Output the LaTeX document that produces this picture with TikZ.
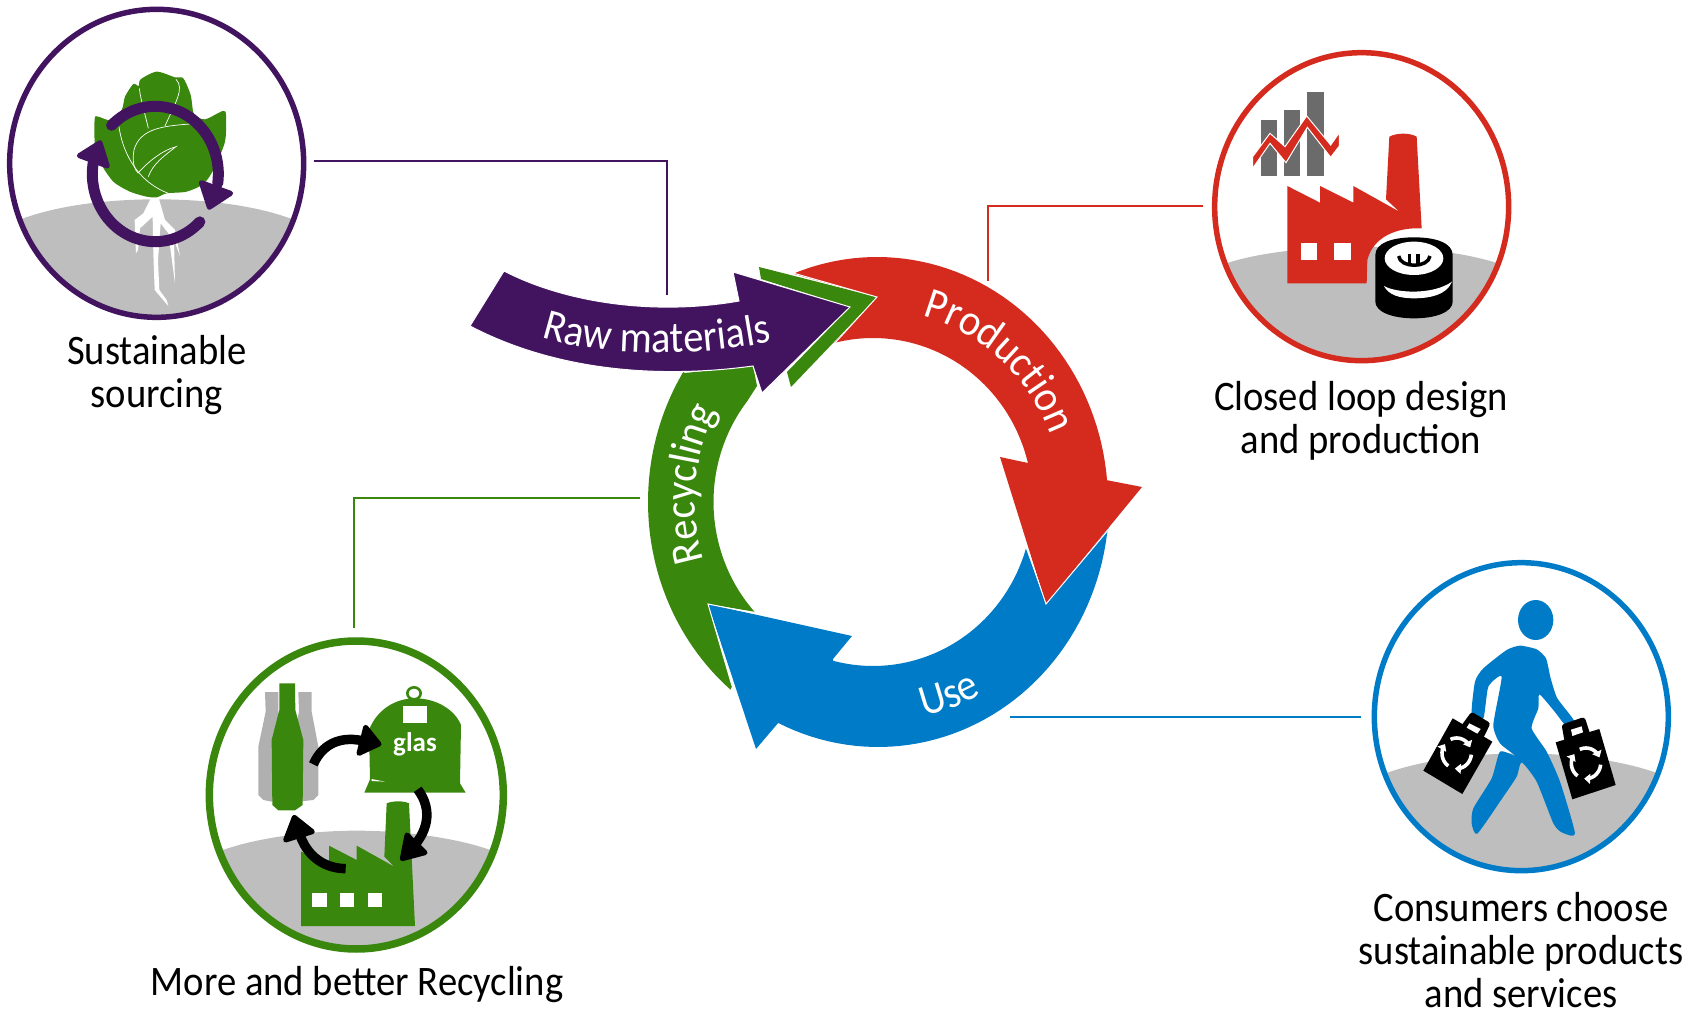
\documentclass[tikz,border=0pt]{standalone}
\usepackage{fontspec}
\setmainfont{Carlito}
\newfontfamily\narrowfam[FakeStretch=0.92]{Carlito}
\usetikzlibrary{decorations.text,arrows.meta}
\definecolor{cpurple}{HTML}{42145F}
\definecolor{cred}{HTML}{D52B1E}
\definecolor{cblue}{HTML}{007BC7}
\definecolor{cgreen}{HTML}{39870C}
\definecolor{cground}{HTML}{BEBEBE}
\definecolor{cbar}{HTML}{6B6B6B}
\definecolor{cbottle}{HTML}{B0B0B0}
\newcommand\ringfont{\narrowfam\fontsize{44}{44}\selectfont\color{white}}
\newcommand\recyc[2]{%
  \foreach \a in {5,125,245}{%
    \pgfmathsetmacro\b{\a+92}%
    \draw[white,line width=3.6pt,-{Triangle[length=6pt,width=10pt]}] plot[domain=\a:\b,samples=12] ({#1+44*cos(\x)},{#2+46*sin(\x)});%
  }}
\tikzset{
  link/.style={line width=2.8pt},
  caption/.style={font=\narrowfam\fontsize{42}{43}\selectfont,align=center,text=black,inner sep=0pt},
  ringedge/.style={draw=white,line width=1pt,line join=miter},
  zoomed/.style={x=0.33333pt,y=-0.33333pt},
  ringtext/.style={decorate,decoration={text along path,text align=center,text={#1}}},
  cycl/.style={cpurple,line width=11pt,line cap=round},
  blackarc/.style={black,line width=9.5pt},
  vein/.style={white,line width=0.7pt},
  thinwhite/.style={draw=white,line width=0.5pt}
}
\begin{document}
\begin{tikzpicture}[x=1pt,y=-1pt]
\useasboundingbox (0,0) rectangle (1690,1016);

% ---------- connectors
\coordinate (p1) at (314,161); \coordinate (p2) at (667,161); \coordinate (p3) at (667,295);
\coordinate (r1) at (1203,206); \coordinate (r2) at (988,206); \coordinate (r3) at (988,281);
\coordinate (g1) at (640,498); \coordinate (g2) at (354,498); \coordinate (g3) at (354,628);
\coordinate (b1) at (1010,717); \coordinate (b2) at (1361,717);
\draw[link,cpurple] (p1) -- (p2) -- (p3);
\draw[link,cred] (r1) -- (r2) -- (r3);
\draw[link,cgreen] (g1) -- (g2) -- (g3);
\draw[link,cblue] (b1) -- (b2);

% ---------- ring
\fill[cgreen] (732,686) -- plot[domain=130:212,samples=50] ({879+231*cos(\x)},{502+245*sin(\x)}) -- (685,373) -- (753,366) -- (757,386) -- plot[domain=218:138,samples=50] ({873+159.5*cos(\x)},{502+164*sin(\x)}) -- (708,604) -- cycle;
\fill[cblue] (1109,528) -- plot[domain=7.2:115.6,samples=50] ({878+231*cos(\x)},{502+245*sin(\x)}) -- (756,749) -- (708,604) -- (852,636) -- (833,659) -- plot[domain=104.5:16.5,samples=50] ({873+159.5*cos(\x)},{502+164*sin(\x)}) -- (1046,604) -- cycle;
\path[ringedge] (732,686) -- (708,604) -- (753,613);
\fill[cred] plot[domain=-111.3:-5.1,samples=50] ({877+231*cos(\x)},{502+245*sin(\x)}) -- (1142,487) -- (1046,604) -- (1000,457) -- (1028,463) -- plot[domain=-14.5:-104,samples=50] ({873+159.5*cos(\x)},{502+164*sin(\x)}) -- (877,297) -- cycle;
\path[ringedge] (1109,529) -- (1046,604) -- (1027,548);
% green chevron
\fill[cgreen] (759,267) -- (877,297) -- (791,387) -- (787,372) -- (850,307) -- (761,279) -- cycle;
\path[ringedge] (793,273) -- (877,297) -- (835,343);
% purple arrow
\path[fill=cpurple,ringedge] (504,271) .. controls (570,305) and (660,315) .. (739,301) -- (733,272) -- (850,307) -- (762,393) -- (753,366) .. controls (650,380) and (550,368) .. (470,326) -- cycle;
\path[ringtext={|\ringfont|Raw materials}] (535,335) .. controls (600,358) and (700,358) .. (778,340);
\path[ringtext={|\ringfont|Production}] plot[domain=-84:-12,samples=40] ({875+187*cos(\x)},{502+192*sin(\x)});
\path[ringtext={|\ringfont|Recycling}] plot[domain=146:225,samples=40] ({873+178*cos(\x)},{502+190*sin(\x)});
\path[ringtext={|\ringfont|Use}] plot[domain=89:49,samples=30] ({875+220*cos(\x)},{502+220*sin(\x)});

% ---------- badge 1: sourcing
\begin{scope}[shift={(0,0)},zoomed]
  \begin{scope}
    \clip (470,490) ellipse [x radius=441,y radius=462];
    \fill[cground] (0,680) -- (70,655) .. controls (190,612) and (340,598) .. (470,598) .. controls (600,598) and (750,612) .. (870,655) -- (960,680) -- (960,1000) -- (0,1000) -- cycle;
  \end{scope}
  \draw[cpurple,line width=5.5pt] (470,490) ellipse [x radius=441,y radius=462];
  \fill[white] (455,590) -- (430,640) -- (404,660) -- (408,760) -- (414,750) -- (420,685) -- (458,650) -- (460,760) -- (464,870) -- (505,918) -- (500,900) -- (478,870) -- (474,780) -- (482,670) -- (505,700) -- (525,850) -- (522,720) -- (540,768) -- (525,690) -- (495,660) -- (475,590) -- cycle;
  \fill[cgreen] plot[smooth cycle,tension=.45] coordinates {(470,215) (525,232) (550,235) (572,285) (582,342) (615,358) (668,333) (678,345) (675,425) (640,510) (610,552) (560,575) (500,580) (470,592) (440,590) (390,575) (340,545) (302,490) (285,440) (284,356) (295,350) (330,360) (365,330) (375,290) (400,252) (416,258) (422,238)};
  \draw[vein] (418,265) .. controls (422,300) and (435,340) .. (445,385);
  \draw[vein] (528,238) .. controls (555,265) and (525,310) .. (495,378);
  \draw[vein] (357,380) .. controls (365,440) and (400,540) .. (505,580);
  \draw[vein] (570,372) .. controls (490,378) and (420,385) .. (402,450) .. controls (395,490) and (405,510) .. (415,520);
  \draw[vein] (415,518) .. controls (450,480) and (490,450) .. (528,440) .. controls (490,470) and (460,490) .. (445,530);
  \draw[cycl] plot[domain=-134:8,samples=40] ({466+189*cos(\x)},{522+203*sin(\x)});
  \draw[cycl] plot[domain=45:192,samples=40] ({466+189*cos(\x)},{522+203*sin(\x)});
  \filldraw[cpurple,line width=5pt,line join=round] (604,548) -- (628,622) -- (692,580) -- cycle;
  \filldraw[cpurple,line width=5pt,line join=round] (238,467) -- (300,428) -- (322,498) -- cycle;
\end{scope}

% ---------- badge 2: production
\begin{scope}[shift={(1200,40)},zoomed]
  \begin{scope}
    \clip (485,500) ellipse [x radius=441,y radius=462];
    \fill[cground] (0,690) -- (85,668) .. controls (200,632) and (360,620) .. (490,620) .. controls (620,620) and (770,632) .. (888,668) -- (960,690) -- (960,1000) -- (0,1000) -- cycle;
  \end{scope}
  \draw[cred,line width=5.5pt] (485,500) ellipse [x radius=441,y radius=462];
  \path[fill=cbar,thinwhite] (182,237) rectangle (233,410);
  \path[fill=cbar,thinwhite] (251,208) rectangle (302,410);
  \path[fill=cbar,thinwhite] (320,155) rectangle (372,410);
  \path[fill=cred,draw=white,line width=1pt] (158,350) -- (210,280) -- (255,320) -- (320,228) -- (392,315) -- (418,278) -- (418,318) -- (392,352) -- (322,262) -- (258,368) -- (210,310) -- (158,385) -- cycle;
  \fill[cred] (262,438) -- (360,488) -- (360,438) -- (460,488) -- (460,438) -- (598,515) -- (558,478) -- (568,290) .. controls (590,278) and (630,278) .. (650,290) -- (665,565) .. controls (590,562) and (520,590) .. (502,660) -- (500,730) -- (262,730) -- cycle;
  \fill[white] (303,610) rectangle (352,660);
  \fill[white] (403,610) rectangle (452,660);
  % coins
  \fill[black] (526,645) .. controls (526,610) and (575,592) .. (642,592) .. controls (710,592) and (758,610) .. (758,645) -- (758,785) .. controls (758,815) and (710,835) .. (642,835) .. controls (575,835) and (526,815) .. (526,785) -- cycle;
  \fill[white] (642,655) ellipse [x radius=88,y radius=50];
  \fill[white] (552,738) .. controls (590,760) and (700,765) .. (756,725) .. controls (740,765) and (690,775) .. (640,775) .. controls (600,775) and (565,765) .. (552,738) -- cycle;
  \draw[black,line width=3.5pt] (596,648) .. controls (600,685) and (685,685) .. (690,648);
  \draw[black,line width=3.5pt] (628,642) -- (628,678);
  \draw[black,line width=3.5pt] (654,642) -- (654,678);
\end{scope}

% ---------- badge 3: consumers
\begin{scope}[shift={(1360,555)},zoomed]
  \begin{scope}
    \clip (484,485) ellipse [x radius=441,y radius=462];
    \fill[cground] (0,680) -- (85,652) .. controls (200,612) and (360,595) .. (485,595) .. controls (610,595) and (770,612) .. (885,652) -- (960,680) -- (960,1000) -- (0,1000) -- cycle;
  \end{scope}
  \draw[cblue,line width=5.5pt] (484,485) ellipse [x radius=441,y radius=462];
  \fill[cblue] (527,195) ellipse [x radius=53,y radius=60];
  \fill[cblue] plot[smooth cycle,tension=.35] coordinates {(440,285) (480,272) (530,283) (558,310) (572,370) (592,430) (642,497) (618,512) (580,465) (538,418) (535,460) (515,520) (560,590) (600,680) (645,836) (605,832) (580,805) (530,680) (485,622) (470,665) (430,725) (352,836) (335,805) (340,760) (395,670) (420,590) (465,602) (420,565) (400,510) (425,365) (385,395) (370,490) (335,480) (345,380) (370,340)};
  \fill[black] (278,490) -- (397,560) -- (307,717) -- (190,647) -- cycle;
  \filldraw[black,line width=6pt,line join=round] (315,512) -- (337,482) -- (380,508) -- (362,545) -- cycle;
  \fill[white] (328,505) -- (362,522) -- (352,536) -- (320,518) -- cycle;
  \fill[black] (587,562) -- (718,522) -- (767,690) -- (637,733) -- cycle;
  \filldraw[black,line width=6pt,line join=round] (615,515) -- (668,497) -- (682,540) -- (622,555) -- cycle;
  \fill[white] (633,524) -- (665,514) -- (669,532) -- (637,543) -- cycle;
  \recyc{290}{595}
  \recyc{678}{625}
\end{scope}

% ---------- badge 4: recycling
\begin{scope}[shift={(195,630)},zoomed]
  \begin{scope}
    \clip (484,495) ellipse [x radius=441,y radius=462];
    \fill[cground] (0,680) -- (90,658) .. controls (200,620) and (360,602) .. (485,602) .. controls (610,602) and (770,620) .. (880,658) -- (960,680) -- (960,1000) -- (0,1000) -- cycle;
  \end{scope}
  \draw[cgreen,line width=7.5pt] (484,495) ellipse [x radius=441,y radius=462];
  \fill[cbottle] (210,186) -- (250,186) -- (250,245) -- (270,350) -- (270,500) -- (230,515) -- (205,510) -- (190,495) -- (190,350) -- (212,245) -- cycle;
  \fill[cbottle] (310,186) -- (350,186) -- (350,245) -- (370,350) -- (370,495) -- (355,510) -- (310,515) -- (290,500) -- (290,350) -- (312,245) -- cycle;
  \fill[cgreen] (253,160) -- (300,160) -- (301,240) -- (325,330) -- (323,525) -- (300,541) -- (250,541) -- (232,525) -- (230,330) -- (253,240) -- cycle;
  \draw[cgreen,line width=2.6pt] (657,190) ellipse [x radius=20,y radius=18];
  \fill[cgreen] (525,448) -- (522,300) .. controls (545,240) and (600,205) .. (660,205) .. controls (725,205) and (780,240) .. (798,285) -- (795,460) -- (812,488) -- (508,488) -- (520,460) -- cycle;
  \fill[white] (530,447) -- (570,455) -- (530,453) -- cycle;
  \fill[white] (623,228) rectangle (696,278);
  \node[font=\fontsize{27}{27}\selectfont\bfseries,text=white,inner sep=0pt] (glaslabel) at (660,342) {glas};
  \fill[cgreen] (318,888) -- (318,665) -- (402,692) -- (402,647) -- (485,690) -- (485,647) -- (598,710) -- (568,680) -- (575,520) .. controls (595,512) and (625,512) .. (642,520) -- (660,888) -- cycle;
  \fill[white] (352,788) rectangle (395,832);
  \fill[white] (435,788) rectangle (477,832);
  \fill[white] (518,788) rectangle (560,832);
  \draw[blackarc] (355,403) .. controls (385,335) and (450,310) .. (535,342);
  \filldraw[black,line width=5pt,line join=round] (512,292) -- (552,342) -- (492,370) -- cycle;
  \draw[blackarc] (668,478) .. controls (715,540) and (700,610) .. (638,668);
  \filldraw[black,line width=5pt,line join=round] (636,615) -- (622,686) -- (690,668) -- cycle;
  \draw[blackarc] (452,716) .. controls (380,715) and (325,670) .. (308,590);
  \filldraw[black,line width=5pt,line join=round] (272,630) -- (298,562) -- (352,605) -- cycle;
\end{scope}

% ---------- captions
\node[caption] (capa) at (157,375) {Sustainable\\sourcing};
\node[caption] (capb) at (1361,421) {Closed loop design\\and production};
\node[caption] (capc) at (1521,950) {Consumers choose\\sustainable products\\and services};
\node[caption] (capd) at (357,985) {More and better Recycling};
\end{tikzpicture}
\end{document}
